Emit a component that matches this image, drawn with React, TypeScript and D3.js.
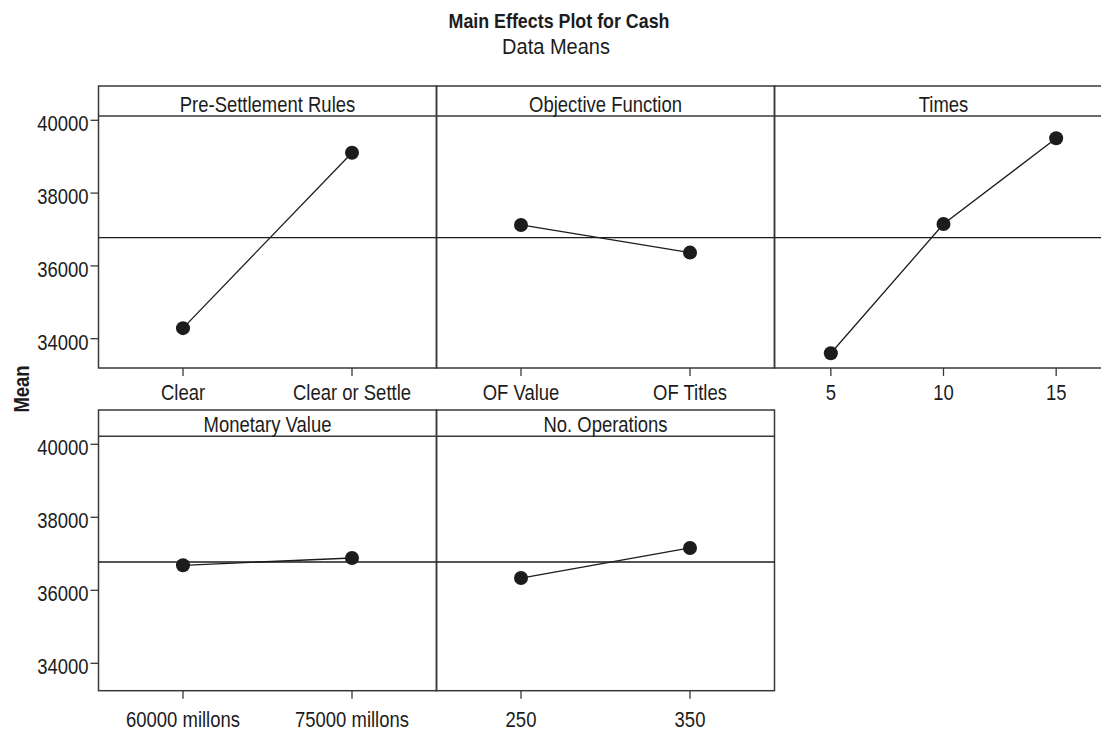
import React from 'react';
import * as d3 from 'd3';

// Main effects data
const title = 'Main Effects Plot for Cash';
const subtitle = 'Data Means';
const yLabel = 'Mean';
const factors = ['Pre-Settlement Rules', 'Objective Function', 'Times', 'Monetary Value', 'No. Operations'];
const levels = [
  ['Clear', 'Clear or Settle'],
  ['OF Value', 'OF Titles'],
  ['5', '10', '15'],
  ['60000 millons', '75000 millons'],
  ['250', '350'],
];
const means = [
  [34290, 39110],
  [37125, 36365],
  [33600, 37150, 39505],
  [36685, 36885],
  [36335, 37160],
];
const grandMean = 36775;
const yTicks = [34000, 36000, 38000, 40000];

const W = 1101;
const H = 731;
const FONT = '"Liberation Sans", Arial, Helvetica, sans-serif';
const SX = 0.84; // condensed look
const INK = '#1c1c1c';
const FRAME = '#383838';

// panel layout
const left = 98.5;
const panelW = 338;
const rows = [
  { top: 86, strip: 116, bottom: 368, y34: 338.7, y40: 120.3, labelY: 399.5 },
  { top: 410, strip: 436.3, bottom: 690.7, y34: 663.3, y40: 444.3, labelY: 727.3 },
];

function Txt({ x, y, children, bold = false, size = 22, sx = SX, anchor = 'middle', rotate = 0 }: any) {
  return (
    <text
      transform={`translate(${x},${y}) rotate(${rotate}) scale(${sx},1)`}
      textAnchor={anchor}
      fontFamily={FONT}
      fontSize={size}
      fontWeight={bold ? 'bold' : 'normal'}
      fill={INK}
    >
      {children}
    </text>
  );
}

export default function App() {
  const panels = factors.map((name, i) => {
    const row = rows[Math.floor(i / 3)];
    const col = i % 3;
    const x0 = left + col * panelW;
    const x1 = x0 + panelW;
    const x = d3.scalePoint<string>().domain(levels[i]).range([x0, x1]).padding(0.5);
    const y = d3.scaleLinear().domain([34000, 40000]).range([row.y34, row.y40]);
    const pts = levels[i].map((l, j) => [x(l) as number, y(means[i][j])] as [number, number]);
    const line = d3.line()(pts) as string;
    return (
      <g key={name}>
        <rect x={x0} y={row.top} width={panelW} height={row.bottom - row.top} fill="none" stroke={FRAME} strokeWidth={1.5} />
        <line x1={x0} x2={x1} y1={row.strip} y2={row.strip} stroke={FRAME} strokeWidth={1.5} />
        <Txt x={(x0 + x1) / 2} y={row.strip - 4.5}>{name}</Txt>
        <line x1={x0} x2={x1} y1={y(grandMean)} y2={y(grandMean)} stroke={INK} strokeWidth={1.3} />
        <path d={line} fill="none" stroke={INK} strokeWidth={1.3} />
        {pts.map((p, j) => (
          <circle key={j} cx={p[0]} cy={p[1]} r={7} fill={INK} />
        ))}
        {levels[i].map((l) => (
          <g key={l}>
            <line x1={x(l)} x2={x(l)} y1={row.bottom} y2={row.bottom + 8} stroke={FRAME} strokeWidth={1.3} />
            <Txt x={x(l)} y={row.labelY}>{l}</Txt>
          </g>
        ))}
        {col === 0 &&
          yTicks.map((t) => (
            <g key={t}>
              <line x1={x0 - 8} x2={x0} y1={y(t)} y2={y(t)} stroke={FRAME} strokeWidth={1.3} />
              <Txt x={x0 - 10} y={y(t) + 11} anchor="end">{t}</Txt>
            </g>
          ))}
      </g>
    );
  });

  return (
    <svg width={W} height={H} style={{ position: 'absolute', left: 0, top: 0, background: '#fff' }}>
      <rect width={W} height={H} fill="#fff" />
      <Txt x={559} y={28.3} bold size={21} sx={0.85}>{title}</Txt>
      <Txt x={556} y={54} sx={0.91}>{subtitle}</Txt>
      <Txt x={28.5} y={389} bold rotate={-90}>{yLabel}</Txt>
      {panels}
    </svg>
  );
}
